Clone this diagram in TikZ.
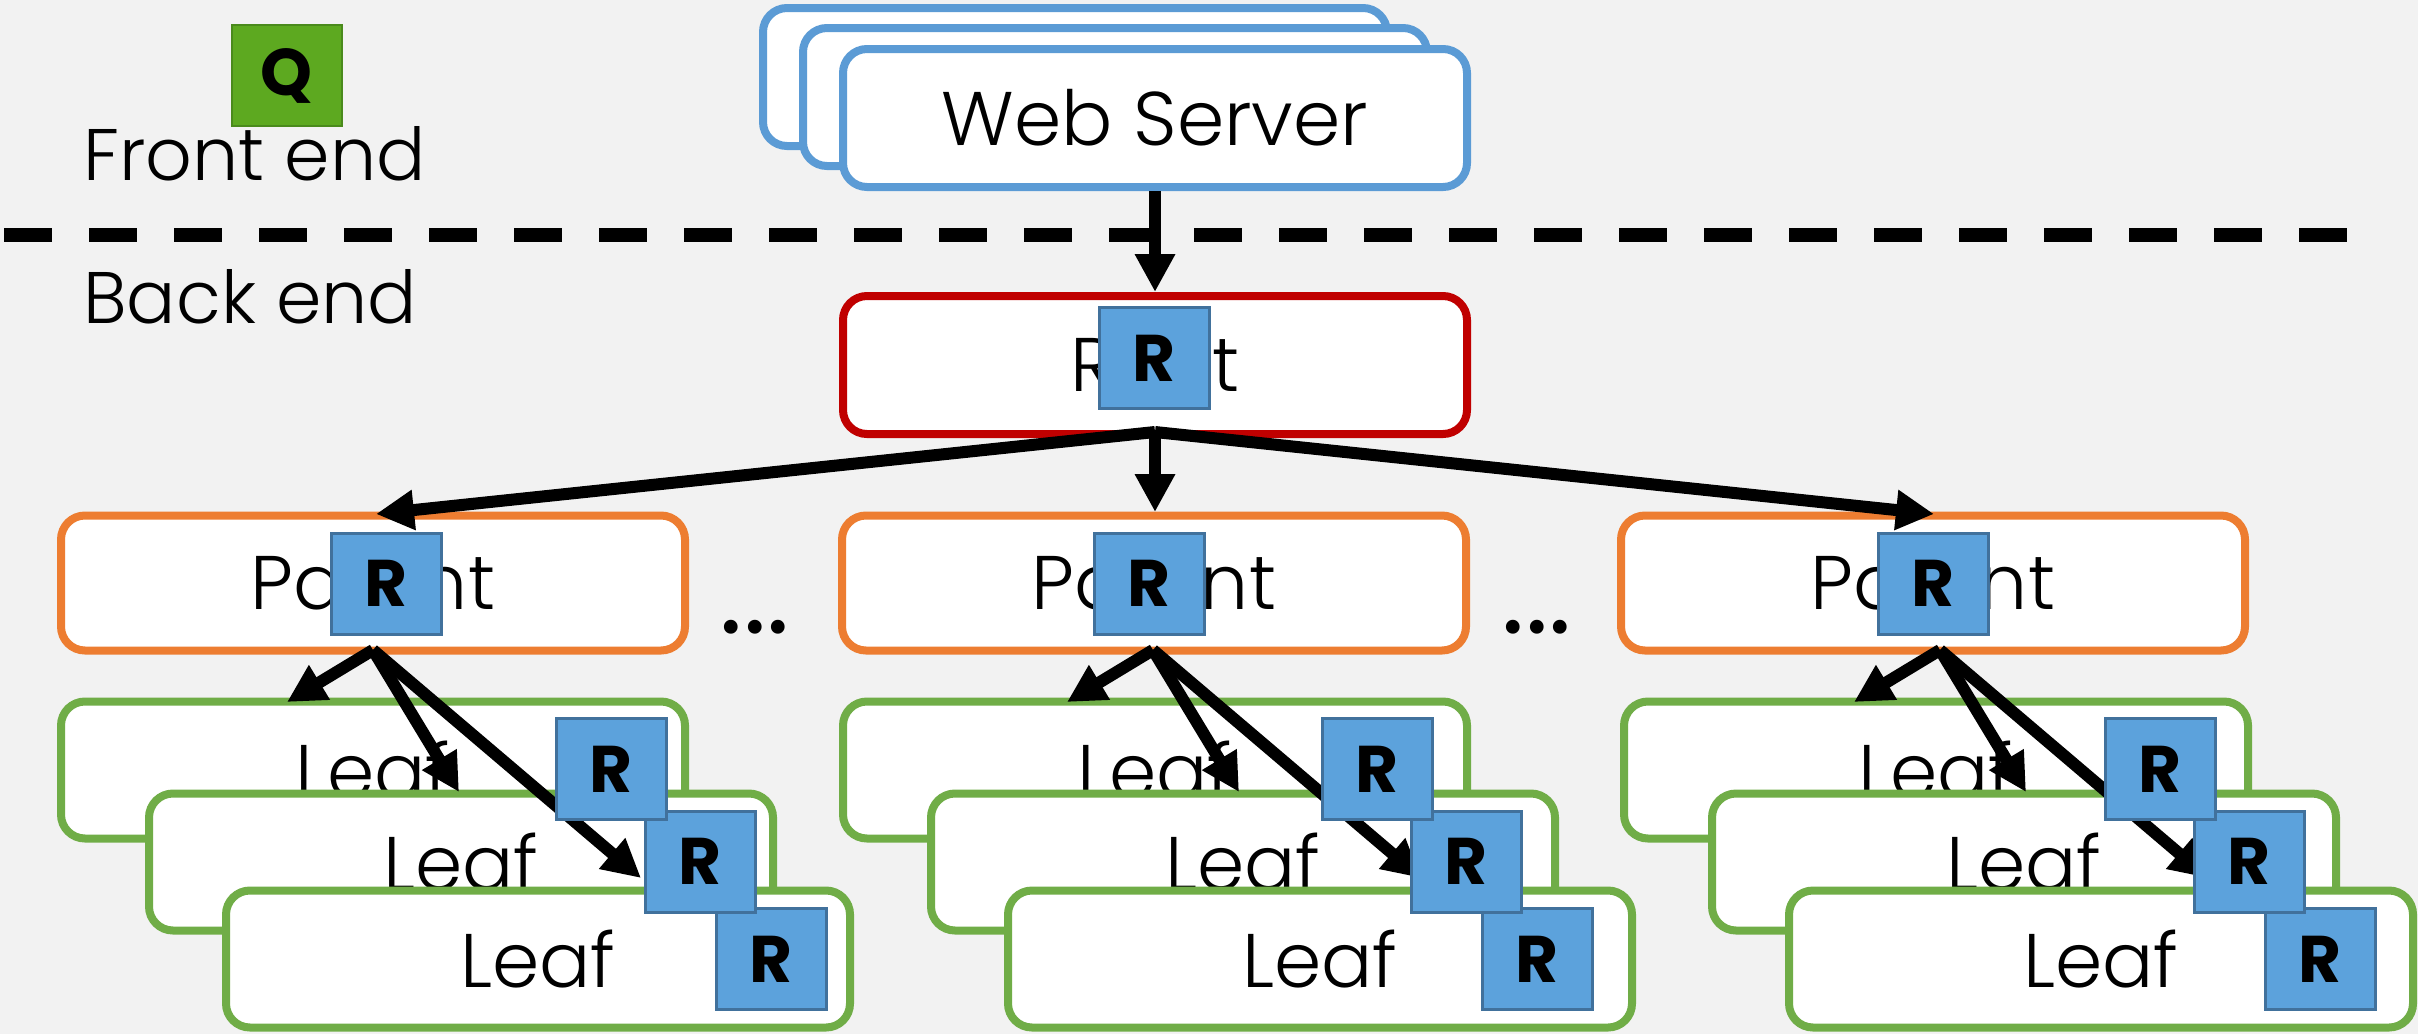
\documentclass[tikz,border=0pt]{standalone}
\usepackage{fontspec}
\setmainfont{Poppins}
\newfontfamily\lightfont{Poppins Light}
\usetikzlibrary{arrows.meta}
\definecolor{bg}{HTML}{F2F2F2}
\definecolor{wsblue}{HTML}{5B9BD5}
\definecolor{rootred}{HTML}{C00000}
\definecolor{parorange}{HTML}{ED7D31}
\definecolor{leafgreen}{HTML}{70AD47}
\definecolor{rblue}{HTML}{5CA2DC}
\definecolor{rborder}{HTML}{41719C}
\definecolor{qgreen}{HTML}{5DA920}
\definecolor{qborder}{HTML}{4A8A1C}
\begin{document}
\begin{tikzpicture}[x=0.5pt,y=-0.5pt,
  mainfont/.style={font=\lightfont\fontsize{38}{40}\selectfont},
  box/.style={draw, line width=4pt, fill=white, rounded corners=12pt,
    minimum width=312pt, minimum height=69pt, inner sep=0pt, mainfont},
  wsbox/.style={box, draw=wsblue},
  rootbox/.style={box, draw=rootred},
  parbox/.style={box, draw=parorange, minimum height=67.5pt},
  leafbox/.style={box, draw=leafgreen, minimum height=68.5pt},
  rtag/.style={draw=rborder, fill=rblue, line width=1.5pt, minimum width=55pt,
    minimum height=50.5pt, inner sep=0pt, font=\fontsize{33}{35}\selectfont\bfseries},
  qtag/.style={rtag, draw=qborder, fill=qgreen, line width=1pt},
  label/.style={anchor=base west, inner sep=0pt, font=\lightfont\fontsize{36.5}{40}\selectfont},
  dotsstyle/.style={anchor=base, inner sep=0pt, font=\fontsize{56}{60}\selectfont},
  arr/.style={line width=6pt, -{Triangle[width=19pt,length=19pt]}},
  sep/.style={line width=7pt, dash pattern=on 24pt off 18.5pt}
]
\useasboundingbox (0,0) rectangle (2418,1034);
\fill[bg] (0,0) rectangle (2418,1034);

% labels
\node[label] (fe) at (83,180) {Front end};
\node[label] (be) at (83,323) {Back end};
\node[qtag] (q) at (286.5,75.5) {Q};

% separator
\coordinate (dl) at (4,235);
\coordinate (dr) at (2347,235);
\draw[sep] (dl) -- (dr);

% web servers
\node[wsbox] (ws1) at (1075,77) {};
\node[wsbox] (ws2) at (1115,97) {};
\node[wsbox] (ws3) at (1155,118) {Web Server};

% root
\node[rootbox] (root) at (1155,365) {Root};
\node[rtag] (rootR) at (1154,358) {R};
\draw[arr] (ws3.south) -- (root.north);

% parents
\foreach \px/\prx/\nm in {373/386/a, 1154/1149/b, 1933/1933/c}{
  \node[parbox] (P\nm) at (\px,583) {Parent};
  \node[rtag] (PR\nm) at (\prx,583.5) {R};
}
\node[dotsstyle] (dots1) at (755,633) {...};
\node[dotsstyle] (dots2) at (1537,633) {...};

% root to parents
\coordinate (rs) at (1155,432);
\coordinate (pta) at (376,514);
\coordinate (ptb) at (1155,512);
\coordinate (ptc) at (1934,514);
\draw[arr] (rs) -- (pta);
\draw[arr] (rs) -- (ptb);
\draw[arr] (rs) -- (ptc);

% leaf stacks
\foreach \sx/\ax/\rx/\nm in {0/0/0/a, 782/780/766/b, 1563/1567/1549/c}{
  \node[leafbox] (La\nm) at ({373+\sx},770) {Leaf};
  \node[leafbox] (Lb\nm) at ({461+\sx},862) {Leaf};
  \node[leafbox] (Lc\nm) at ({538+\sx},959) {Leaf};
  \coordinate (s\nm) at ({373+\ax},650);
  \coordinate (ta\nm) at ({287+\ax},702);
  \coordinate (tb\nm) at ({459+\ax},792);
  \coordinate (tc\nm) at ({641+\ax},878);
  \draw[arr] (s\nm) -- (ta\nm);
  \draw[arr] (s\nm) -- (tb\nm);
  \draw[arr] (s\nm) -- (tc\nm);
  \node[rtag] (LRc\nm) at ({771+\rx},959) {R};
  \node[rtag] (LRb\nm) at ({700+\rx},861.5) {R};
  \node[rtag] (LRa\nm) at ({611+\rx},769) {R};
}
\end{tikzpicture}
\end{document}
